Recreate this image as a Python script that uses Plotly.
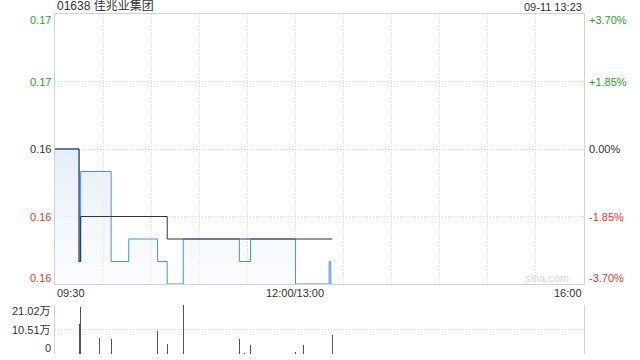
import plotly.graph_objects as go

# ---- data ----
prev_close = 0.162
# price change points (minute index from 09:30, trading minutes; 13:00 = 150)
price_min = [0, 15, 16, 35, 46, 64, 70, 80, 115, 122, 150, 171, 172, 173]
price_val = [0.162, 0.157, 0.161, 0.157, 0.158, 0.157, 0.156, 0.158, 0.157, 0.158, 0.156, 0.157, 0.156, 0.156]
avg_min = [0, 15, 16, 70, 173]
avg_val = [0.162, 0.157, 0.159, 0.158, 0.158]
vol_min = [15, 16, 28, 35, 64, 70, 80, 115, 118, 122, 150, 155, 173]
vol_val = [128000, 200000, 70000, 66000, 98000, 43000, 210200, 66000, 6000, 39000, 10000, 39000, 81000]

price_ticks = [0.168, 0.165, 0.162, 0.159, 0.156]
price_labels = ["0.17", "0.17", "0.16", "0.16", "0.16"]
pct_labels = ["+3.70%", "+1.85%", "0.00%", "-1.85%", "-3.70%"]
tick_colors = ["#1ea51e", "#1ea51e", "#333333", "#f03333", "#f03333"]
vol_ticks = [210200, 105100, 0]
vol_labels = ["21.02万", "10.51万", "0"]
time_ticks = [0, 150, 330]
time_labels = ["09:30", "12:00/13:00", "16:00"]
grid_minutes = [30, 60, 90, 120, 150, 180, 210, 240, 270, 300]

FONT = "Liberation Sans, Arial, Noto Sans CJK SC"
GRID = "#d4d4d4"
DOT = "1px,2px"

fig = go.Figure()

fig.add_trace(go.Scatter(
    x=price_min, y=price_val, mode="lines", line=dict(color="#4a8ee8", width=1, shape="hv"),
    fill="tozeroy",
    fillgradient=dict(type="vertical", start=0.156, stop=0.162,
                      colorscale=[[0, "rgba(240,245,253,0.3)"], [1, "rgba(228,237,251,1)"]]),
    xaxis="x", yaxis="y", hoverinfo="skip", showlegend=False))

fig.add_trace(go.Scatter(
    x=avg_min, y=avg_val, mode="lines", line=dict(color="#333333", width=1, shape="hv"),
    xaxis="x", yaxis="y", hoverinfo="skip", showlegend=False))

fig.add_trace(go.Bar(
    x=vol_min, y=vol_val, width=0.66, marker=dict(color="#555555", line=dict(width=0)),
    xaxis="x2", yaxis="y2", hoverinfo="skip", showlegend=False))

annotations = []
shifts = [-6, 0, 0, 0, 6]
for v, lab, pl, c, s in zip(price_ticks, price_labels, pct_labels, tick_colors, shifts):
    annotations.append(dict(x=0, xref="paper", y=v, yref="y", text=lab, showarrow=False,
                            xanchor="right", xshift=-2, yshift=s, font=dict(color=c, size=11)))
    annotations.append(dict(x=1, xref="paper", y=v, yref="y", text=pl, showarrow=False,
                            xanchor="left", xshift=3, yshift=s, font=dict(color=c, size=11)))
vshifts = [-6, 0, 6]
for v, lab, s in zip(vol_ticks, vol_labels, vshifts):
    annotations.append(dict(x=0, xref="paper", y=v, yref="y2", text=lab, showarrow=False,
                            xanchor="right", xshift=-2, yshift=s, font=dict(color="#333333", size=11)))
anchors = ["left", "center", "right"]
for t, lab, a in zip(time_ticks, time_labels, anchors):
    annotations.append(dict(x=t, xref="x", y=0.156, yref="y", text=lab, showarrow=False,
                            xanchor=a, yanchor="top", yshift=-1, font=dict(color="#333333", size=11)))
annotations.append(dict(x=0, xref="paper", y=1, yref="paper", text="01638 佳兆业集团", showarrow=False,
                        xanchor="left", yanchor="bottom", yshift=-1, font=dict(color="#333333", size=12)))
annotations.append(dict(x=1, xref="paper", y=1, yref="paper", text="09-11 13:23", showarrow=False,
                        xanchor="right", yanchor="bottom", yshift=-1, font=dict(color="#333333", size=11)))
annotations.append(dict(x=322, xref="x", y=0.156, yref="y", text="sina.com", showarrow=False,
                        xanchor="right", yanchor="bottom", yshift=-2, font=dict(color="#d6d6d6", size=11)))

fig.update_layout(
    width=640, height=360,
    margin=dict(l=55, r=56, t=14, b=6),
    paper_bgcolor="white", plot_bgcolor="white",
    font=dict(family=FONT, size=11, color="#333333"),
    bargap=0,
    annotations=annotations,
    xaxis=dict(domain=[0, 1], range=[0, 330], anchor="y", showticklabels=False, ticks="",
               tickvals=grid_minutes, showgrid=True, gridcolor=GRID, griddash=DOT, gridwidth=1,
               showline=True, linecolor=GRID, linewidth=1, mirror=True, zeroline=False,
               layer="below traces"),
    yaxis=dict(domain=[0.2059, 1], range=[0.156, 0.168], showticklabels=False, ticks="",
               tickvals=price_ticks, showgrid=True, gridcolor=GRID, griddash=DOT, gridwidth=1,
               showline=True, linecolor=GRID, linewidth=1, mirror=True, zeroline=False,
               layer="below traces"),
    xaxis2=dict(domain=[0, 1], range=[0, 330], anchor="y2", showticklabels=False, ticks="",
                showgrid=False, showline=False, zeroline=False),
    yaxis2=dict(domain=[0, 0.1441], range=[0, 210200], anchor="x2", showticklabels=False, ticks="",
                tickvals=vol_ticks, showgrid=True, gridcolor=GRID, griddash=DOT, gridwidth=1,
                showline=True, linecolor=GRID, linewidth=1, mirror=True, zeroline=False),
)

fig.write_html("out.html", config={"displayModeBar": False, "staticPlot": True},
               post_script="document.body.style.margin='0';document.body.style.overflow='hidden';")
